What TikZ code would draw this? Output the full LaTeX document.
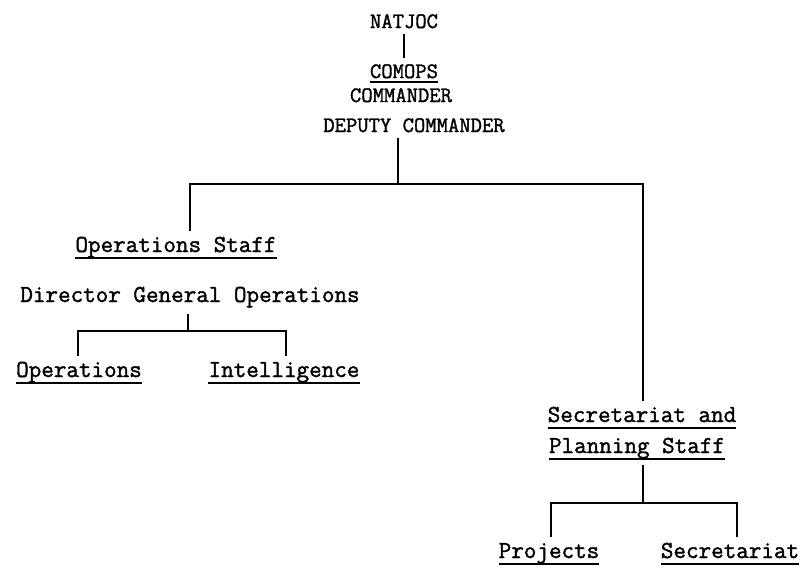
\documentclass[tikz,border=0pt]{standalone}
\usepackage{fontspec}
\usepackage{tikz}
\usetikzlibrary{calc}
\newfontfamily\typefont{Latin Modern Mono}[FakeBold=1.5]
\tikzset{
	unit/.style={font=\typefont\fontsize{24.4}{28}\selectfont, inner xsep=0pt, inner ysep=6pt, anchor=base},
	head/.style={unit, font=\typefont\fontsize{22}{26}\selectfont},
	link/.style={line width=1.8pt},
	ul/.style={line width=1.4pt},
}
\begin{document}
\begin{tikzpicture}[x=1pt,y=-1pt]
	\useasboundingbox (0,0) rectangle (804,571);
	
	\node[head] (natjoc) at (404,28) {NATJOC};
	\node[head] (comops) at (404,78) {COMOPS};
	\node[head] (commander) at (401,102) {COMMANDER};
	\node[head] (deputy) at (414,132) {DEPUTY COMMANDER};
	
	\node[unit] (opstaff) at (176,252) {Operations Staff};
	\node[unit] (dgo) at (190,302) {Director General Operations};
	\node[unit] (ops) at (79,377) {Operations};
	\node[unit] (intel) at (284,377) {Intelligence};
	
	\node[unit] (secand) at (642,422) {Secretariat and};
	\node[unit] (planning) at (637,453) {Planning Staff};
	\node[unit] (projects) at (549,558) {Projects};
	\node[unit] (secr) at (730,558) {Secretariat};
	
	\coordinate (jtop) at (398,184);
	\coordinate (hl) at (190,184);
	\coordinate (hr) at (643,184);
	\coordinate (jd) at (188,331);
	\coordinate (dl) at (78,331);
	\coordinate (dr) at (286,331);
	\coordinate (jp) at (643,503);
	\coordinate (pl) at (551,503);
	\coordinate (pr) at (737,503);
	
	\draw[link] (natjoc.south) -- (comops.north);
	\draw[link] (deputy.south -| jtop) -- (jtop);
	\draw[link] (opstaff.north -| hl) -- (hl) -- (hr) -- (secand.north -| hr);
	\draw[link] (dgo.south -| jd) -- (jd);
	\draw[link] (ops.north -| dl) -- (dl) -- (dr) -- (intel.north -| dr);
	\draw[link] (planning.south -| jp) -- (jp);
	\draw[link] (projects.north -| pl) -- (pl) -- (pr) -- (secr.north -| pr);
	
	% underlines
	\draw[ul] ([yshift=-4pt]comops.base west) -- ([yshift=-4pt]comops.base east);
	\foreach \n in {opstaff,ops,intel,secand,planning,projects,secr}
		\draw[ul] ([yshift=-6pt]\n.base west) -- ([yshift=-6pt]\n.base east);
	
\end{tikzpicture}
\end{document}
